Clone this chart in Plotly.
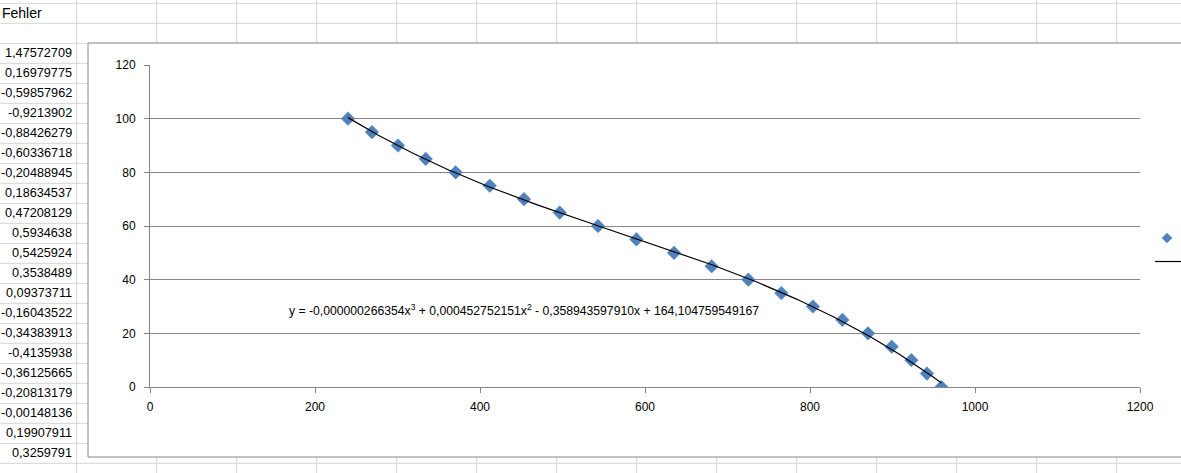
import numpy as np
import plotly.graph_objects as go

# ---- data ----
x_vals = [240, 269, 300.6, 334.2, 370.5, 411.8, 453.3, 496.6, 543, 589.6, 635.2,
          680.8, 725.3, 765.3, 803.6, 839.3, 870.3, 899, 922.9, 941.8, 959.3]
y_vals = [100, 95, 90, 85, 80, 75, 70, 65, 60, 55, 50, 45, 40, 35, 30, 25, 20, 15, 10, 5, 0]

fehler_header = "Fehler"
fehler_vals = ["1,47572709", "0,16979775", "-0,59857962", "-0,9213902", "-0,88426279",
               "-0,60336718", "-0,20488945", "0,18634537", "0,47208129", "0,5934638",
               "0,5425924", "0,3538489", "0,09373711", "-0,16043522", "-0,34383913",
               "-0,4135938", "-0,36125665", "-0,20813179", "-0,00148136", "0,19907911",
               "0,3259791"]

eq_text = ("y = -0,000000266354x<sup>3</sup> + 0,000452752151x<sup>2</sup> - "
           "0,358943597910x + 164,104759549167")

x_ticks = [0, 200, 400, 600, 800, 1000, 1200]
y_ticks = [0, 20, 40, 60, 80, 100, 120]

# ---- geometry ----
W, H = 1181, 473
ML, MR, MT, MB = 150, 41, 65, 86
PW, PH = W - ML - MR, H - MT - MB


def px(xp):
    return (xp - ML) / PW


def py(yp):
    return (H - MB - yp) / PH


GRID = "#d4d4d4"
AX = "#868686"
BLUE = "#4f81bd"

# cubic trendline fitted to the data
coef = np.polyfit(x_vals, y_vals, 3)
xt = np.linspace(min(x_vals), max(x_vals), 300)
yt = np.polyval(coef, xt)

fig = go.Figure()
fig.add_trace(go.Scatter(x=x_vals, y=y_vals, mode="markers", name="Messwerte",
                         marker=dict(symbol="diamond", size=10.5, color=BLUE,
                                     line=dict(width=0.5, color="#5b8ac2"))))
fig.add_trace(go.Scatter(x=xt, y=yt, mode="lines", name="Trendlinie",
                         line=dict(color="black", width=1.2)))

shapes = []
# spreadsheet grid
for k in range(15):
    xp = 76.7 + 80 * k
    shapes.append(dict(type="line", xref="paper", yref="paper", x0=px(xp), x1=px(xp),
                       y0=py(0), y1=py(H), line=dict(color=GRID, width=1), layer="below"))
for k in range(24):
    yp = 3.3 + 20 * k
    shapes.append(dict(type="line", xref="paper", yref="paper", x0=px(0), x1=px(W),
                       y0=py(yp), y1=py(yp), line=dict(color=GRID, width=1), layer="below"))
# chart area frame
shapes.append(dict(type="rect", xref="paper", yref="paper", x0=px(88), x1=px(W + 20),
                   y0=py(457), y1=py(43), fillcolor="white",
                   line=dict(color=AX, width=1), layer="below"))
# legend keys (entries without text, as in the reference)
cx, cy, r = 1167, 238, 5
shapes.append(dict(type="path", xref="paper", yref="paper",
                   path=(f"M {px(cx - r)},{py(cy)} L {px(cx)},{py(cy - r)} "
                         f"L {px(cx + r)},{py(cy)} L {px(cx)},{py(cy + r)} Z"),
                   fillcolor=BLUE, line=dict(color="#5b8ac2", width=0.5)))
shapes.append(dict(type="line", xref="paper", yref="paper", x0=px(1155), x1=px(1181),
                   y0=py(261.5), y1=py(261.5), line=dict(color="black", width=1.2)))
fig.update_layout(shapes=shapes)

ann = [dict(x=px(0), y=py(13), xref="paper", yref="paper", text=fehler_header,
            showarrow=False, xanchor="left", yanchor="middle",
            font=dict(family="Liberation Sans", size=14, color="black"))]
for i, v in enumerate(fehler_vals):
    ann.append(dict(x=px(74), y=py(53.3 + 20 * i), xref="paper", yref="paper", text=v,
                    showarrow=False, xanchor="right", yanchor="middle",
                    font=dict(family="Liberation Sans", size=12.7, color="black")))
ann.append(dict(x=px(524), y=py(310), xref="paper", yref="paper", text=eq_text,
                showarrow=False, xanchor="center", yanchor="middle",
                font=dict(family="Liberation Sans", size=12.2, color="black")))
fig.update_layout(annotations=ann)

fig.update_layout(
    width=W, height=H, autosize=False,
    margin=dict(l=ML, r=MR, t=MT, b=MB),
    paper_bgcolor="white", plot_bgcolor="rgba(0,0,0,0)",
    font=dict(family="Liberation Sans", size=12, color="black"),
    showlegend=False,
    xaxis=dict(range=[0, 1200], tickvals=x_ticks, ticks="outside", ticklen=5,
               tickcolor=AX, showline=True, linecolor=AX, linewidth=1,
               showgrid=False, zeroline=False, ticklabelstandoff=4,
               tickfont=dict(size=12)),
    yaxis=dict(range=[0, 120], tickvals=y_ticks, ticks="outside", ticklen=5,
               tickcolor=AX, showline=True, linecolor=AX, linewidth=1,
               showgrid=True, gridcolor=AX, gridwidth=1, zeroline=False,
               ticklabelstandoff=6, tickfont=dict(size=12)),
)

fig.write_html("out.html", config={"displayModeBar": False},
               post_script="document.body.style.margin='0px';")
